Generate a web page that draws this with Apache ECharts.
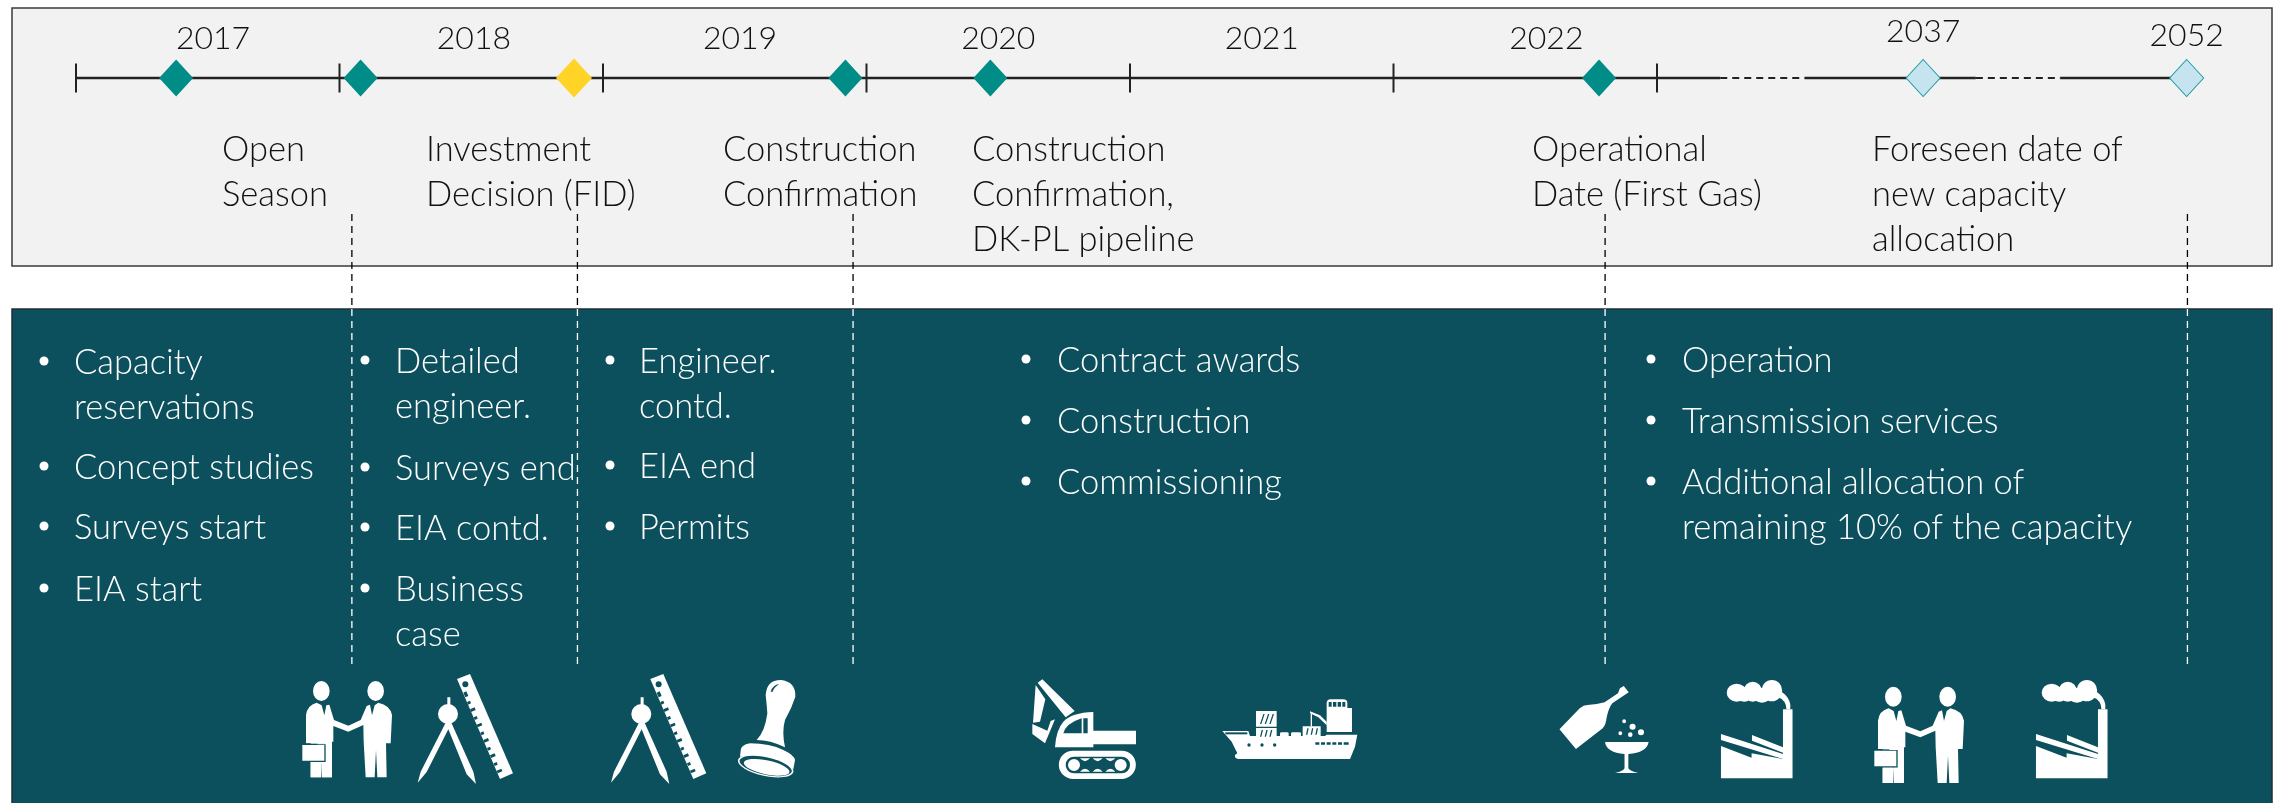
<!DOCTYPE html>
<html>
<head>
<meta charset="utf-8">
<title>Timeline</title>
<style>
  html, body { margin: 0; padding: 0; background: #fff; }
  #chart { width: 2279px; height: 803px; }
</style>
</head>
<body>
<div id="chart"></div>
<script src="https://cdn.jsdelivr.net/npm/echarts@6/dist/echarts.min.js"></script>
<script>
// timeline data, x positions are in "schematic years" (one tick = one year, 2023+ is broken)
const tickPositions = [2017, 2018, 2019, 2020, 2021, 2022, 2023]
const solidSegments = [[2017, 2023.24], [2023.56, 2024.21], [2024.53, 2025.01]]
const dashedSegments = [[2023.24, 2023.56], [2024.21, 2024.53]]
const doneMilestones = [2017.38, 2018.08, 2019.92, 2020.47, 2022.78]
const fidMilestones = [2018.89]
const futureMilestones = [2024.01, 2025.01]
const connectorPositions = [2018.047, 2018.903, 2019.949, 2022.803, 2025.013]

const yearLabels = ['2017', '2018', '2019', '2020', '2021', '2022', '2037', '2052']
const yearLabelPositions = [2017.52, 2018.51, 2019.52, 2020.50, 2021.50, 2022.58, 2024.01, 2025.01]

const milestoneCaptions = [
  ['Open', 'Season'],
  ['Investment', 'Decision (FID)'],
  ['Construction', 'Confirmation'],
  ['Construction', 'Confirmation,', 'DK-PL pipeline'],
  ['Operational', 'Date (First Gas)'],
  ['Foreseen date of', 'new capacity', 'allocation']
]

const activityLists = [
  [['Capacity', 'reservations'], ['Concept studies'], ['Surveys start'], ['EIA start']],
  [['Detailed', 'engineer.'], ['Surveys end'], ['EIA contd.'], ['Business', 'case']],
  [['Engineer.', 'contd.'], ['EIA end'], ['Permits']],
  [['Contract awards'], ['Construction'], ['Commissioning']],
  [['Operation'], ['Transmission services'], ['Additional allocation of', 'remaining 10% of the capacity']]
]

// layout, page pixels
const FONT_FAMILY = 'Lato, "Open Sans", sans-serif'
const FONT_SIZE = 34.5
const FONT = `300 ${FONT_SIZE}px ${FONT_FAMILY}`
const PANEL = '#0C505D'
const TEAL = '#008C87'
const LINE_H = 45
const TIMELINE_Y = 78
const captionX = [222, 426, 723, 972, 1532, 1872]
const yearY = [39, 39, 39, 39, 39, 39, 32, 36]
const listLayout = [
  { bulletX: 44, textX: 74, ys: [363, 468, 528, 590] },
  { bulletX: 365, textX: 395, ys: [362, 469, 529, 590] },
  { bulletX: 610, textX: 639, ys: [362, 467, 528] },
  { bulletX: 1026, textX: 1057, ys: [361, 422, 483] },
  { bulletX: 1651, textX: 1682, ys: [361, 422, 483] }
]

const graphics = [
  { type: 'rect', z: 0, shape: { x: 12, y: 8, width: 2260, height: 258 },
    style: { fill: '#F2F2F2', stroke: '#3A3A3A', lineWidth: 1.5 } },
  { type: 'rect', z: 0, shape: { x: 12, y: 309, width: 2260, height: 500 },
    style: { fill: PANEL, stroke: '#1F2F36', lineWidth: 1.5 } }
]

const addText = (text, x, y, fill) => {
  graphics.push({ type: 'text', z: 100, x, y,
    style: { text, font: FONT, fill, textVerticalAlign: 'middle' } })
}

milestoneCaptions.forEach((lines, i) => {
  lines.forEach((line, j) => addText(line, captionX[i], 149.5 + j * LINE_H, '#111'))
})

activityLists.forEach((items, c) => {
  const col = listLayout[c]
  items.forEach((lines, r) => {
    graphics.push({ type: 'circle', z: 100, shape: { cx: col.bulletX, cy: col.ys[r] - 2, r: 4.5 }, style: { fill: '#fff' } })
    lines.forEach((line, j) => addText(line, col.textX, col.ys[r] + j * LINE_H, '#fff'))
  })
})

// icons: layers are drawn in order, written in the pixel grid of a zoomed crop
const ell = (cx, cy, rx, ry, rot) => {
  const a = (rot || 0) * Math.PI / 180
  const dx = rx * Math.cos(a)
  const dy = rx * Math.sin(a)
  return `M${cx - dx},${cy - dy} A${rx},${ry} ${rot || 0} 1,1 ${cx + dx},${cy + dy} A${rx},${ry} ${rot || 0} 1,1 ${cx - dx},${cy - dy} Z`
}

const handshake = [
  ['#fff', ell(154, 153, 25, 30) + ell(317, 153, 25, 30)],
  ['#fff', 'M108,225 Q112,195 140,188 L155,196 L163,226 L169,196 L178,194 L192,240 L235,257 L272,240 L290,198 L300,194 L306,226 L314,196 L325,188 Q360,195 366,225 L362,310 L348,310 L350,412 L322,412 L318,330 L314,412 L287,412 L281,305 L280,255 L235,275 L190,258 L190,305 L186,305 L186,412 L155,412 L155,365 L153,412 L122,412 L122,310 L108,310 Z'],
  [PANEL, 'M94,311 L167,311 L167,366 L94,366 Z'],
  ['#fff', 'M97,315 L163,315 L163,362 L97,362 Z M122,366 L153,366 L153,412 L122,412 Z M156,366 L186,366 L186,412 L156,412 Z M142,310 L168,310 L168,313 L142,313 Z']
]
const compass = [
  ['#fff', 'M532,172 L541,172 L541,196 L532,196 Z' + ell(534, 222, 30, 30)],
  ['#fff', 'M527,248 L452,395 L443,428 L470,396 L535,268 L590,403 L618,432 L610,395 L543,246 Z'],
  ['#fff', 'M561,117 L600,102 L729,400 L690,417 Z'],
  [PANEL, ell(586, 133, 9, 9)],
  [PANEL, 'M580,158 L589,154 L595,168 L586,172 Z M591,186 L600,182 L603,190 L594,194 Z M600,208 L614,202 L617,210 L603,216 Z M611,232 L620,228 L623,236 L614,240 Z M620,254 L634,248 L637,256 L623,262 Z M631,278 L640,274 L643,282 L634,286 Z M640,300 L654,294 L657,302 L643,308 Z M651,324 L660,320 L663,328 L654,332 Z M660,346 L674,340 L677,348 L663,354 Z M671,370 L680,366 L683,374 L674,378 Z M680,392 L694,386 L697,394 L683,400 Z']
]
const stamp = [
  ['#fff', 'M110,240 Q135,215 142,160 Q140,130 137,105 Q140,60 182,60 Q228,65 226,110 Q215,145 195,180 Q185,215 195,262 Q150,240 110,240 Z'],
  [PANEL, 'M152,95 Q158,75 178,72 Q162,82 158,95 Z'],
  ['#fff', 'M62,272 Q62,255 90,250 Q150,250 190,270 Q222,285 225,300 L220,328 Q170,292 120,288 L60,290 Z'],
  ['#fff', ell(137, 318, 85, 30, 12)],
  [PANEL, ell(137, 318, 80, 26, 12)],
  ['#fff', ell(140, 322, 70, 21, 12)]
]
const excavator = [
  ['#fff', 'M127,118 L113,128 L197,232 L224,213 Z M107,135 L99,248 L120,245 L136,178 Z M97,252 L97,282 L135,310 L165,238 L152,243 L142,272 Z'],
  ['#fff', 'M165,322 Q168,270 190,245 Q215,218 280,216 L280,272 L408,272 L408,313 L280,313 L280,322 Z'],
  [PANEL, 'M190,280 Q198,250 245,235 L245,280 Z M250,235 L263,235 L263,280 L250,280 Z'],
  ['#fff', 'M219,332 L365,332 A42,42 0 0,1 365,417 L219,417 A42,42 0 0,1 219,332 Z'],
  [PANEL, 'M222,350 L365,350 A25,25 0 0,1 365,400 L222,400 A25,25 0 0,1 222,350 Z'],
  ['#fff', ell(222, 375, 18, 18) + ell(362, 375, 18, 18)],
  ['#fff', 'M240,355 L270,355 Q255,372 240,355 Z M278,355 L308,355 Q293,372 278,355 Z M316,355 L346,355 Q331,372 316,355 Z M240,395 L270,395 Q255,378 240,395 Z M278,395 L308,395 Q293,378 278,395 Z M316,395 L346,395 Q331,378 316,395 Z']
]
const ship = [
  ['#fff', 'M667,273 L745,273 L750,288 L975,288 L980,284 L1072,284 L1065,320 L1050,357 L715,357 Q703,355 705,345 L712,340 L695,305 Z'],
  [PANEL, 'M676,277 L742,277 L742,283 L676,283 Z'],
  [PANEL, ell(747, 315, 5, 5) + ell(786, 315, 5, 5) + ell(824, 315, 5, 5)],
  [PANEL, 'M946,307 L958,307 L958,314 L946,314 Z M963,307 L975,307 L975,314 L963,314 Z M980,307 L992,307 L992,314 L980,314 Z M997,307 L1009,307 L1009,314 L997,314 Z M1014,307 L1026,307 L1026,314 L1014,314 Z M1031,307 L1046,307 L1046,314 L1031,314 Z'],
  ['#fff', 'M768,213 L830,213 L830,260 L768,260 Z M768,264 L830,264 L830,295 L768,295 Z M908,259 L962,259 L962,288 L908,288 Z'],
  [PANEL, 'M780,252 L790,222 L794,222 L784,252 Z M794,252 L804,222 L808,222 L798,252 Z M808,252 L818,222 L822,222 L812,252 Z M780,290 L785,270 L789,270 L784,290 Z M794,290 L799,270 L803,270 L798,290 Z M808,290 L813,270 L817,270 L812,290 Z M918,284 L922,265 L926,265 L922,284 Z M932,284 L936,265 L940,265 L936,284 Z M946,284 L950,265 L954,265 L950,284 Z'],
  ['#fff', 'M840,280 Q840,277 845,277 L862,277 Q866,277 866,280 L866,290 L861,290 L861,297 L857,297 L857,290 L849,290 L849,297 L845,297 L845,290 L840,290 Z M873,280 Q873,277 878,277 L898,277 Q903,277 903,280 L903,290 L898,290 L898,297 L894,297 L894,290 L882,290 L882,297 L878,297 L878,290 L873,290 Z'],
  ['#fff', 'M980,190 Q980,178 992,178 L1030,178 Q1042,178 1042,190 L1042,204 L1056,204 L1056,276 L980,276 Z'],
  [PANEL, 'M986,186 L995,186 L995,200 L986,200 Z M999,186 L1009,186 L1009,200 L999,200 Z M1013,186 L1023,186 L1023,200 L1013,200 Z M1027,186 L1036,186 L1036,200 L1027,200 Z'],
  ['#fff', 'M930,214 L960,226 L980,245 L980,256 L955,232 L930,220 Z M932,222 L936,222 L936,259 L932,259 Z']
]
const champagne = [
  ['#fff', 'M77,268 L120,327 L190,265 Q198,255 200,235 Q205,205 215,190 L258,157 L245,138 L235,145 L230,160 L195,187 Q170,195 150,195 Q140,195 130,205 Z'],
  ['#fff', 'M196,306 L310,306 Q305,338 257,342 L257,385 Q260,393 283,399 L222,399 Q245,393 247,385 L247,342 Q200,338 196,306 Z'],
  ['#fff', ell(246, 244, 5, 6) + ell(268, 260, 8, 9) + ell(290, 277, 8, 9) + ell(236, 280, 5, 6) + ell(262, 284, 6, 7)]
]
const factory = [
  ['#fff', ell(540, 158, 26, 27) + ell(582, 155, 24, 30) + ell(632, 152, 27, 32) + ell(606, 166, 24, 22) + ell(560, 165, 20, 20)],
  ['#fff', 'M650,150 Q684,172 680,208 L670,208 Q670,180 646,170 Z'],
  ['#fff', 'M661,208 L686,208 L686,415 L499,415 L499,318 L579,353 L579,340 L661,357 Z'],
  ['#fff', 'M499,282 L661,342 L661,357 L499,300 Z M580,285 L661,322 L661,338 L580,302 Z']
]

const S3 = 1 / 3
const SX5 = 1 / 2.613
const iconNames = ['handshake', 'compass', 'compass', 'stamp', 'excavator', 'ship', 'champagne', 'factory', 'handshake', 'factory']
const iconShapes = { handshake, compass, stamp, excavator, ship, champagne, factory }
const iconPlacement = [
  [270, 640, S3, S3],
  [270, 640, S3, S3],
  [463.3, 640, S3, S3],
  [720, 660, S3, S3],
  [1000, 640, S3, S3],
  [1000, 640, S3, S3],
  [1530, 640, SX5, S3],
  [1530, 640, SX5, S3],
  [1842, 645.7, S3, S3],
  [1845, 640, SX5, S3]
]

const segment = (range, dashed) => ({
  type: 'line',
  symbol: 'none',
  silent: true,
  z: 3,
  lineStyle: { color: '#222', width: dashed ? 2 : 2.5, type: dashed ? [7, 5] : 'solid' },
  data: range.map((x) => [x, TIMELINE_Y])
})

const connector = (x, top, bottom, color) => ({
  type: 'line',
  symbol: 'none',
  silent: true,
  z: 4,
  lineStyle: { color, width: 1.3, type: [7, 5] },
  data: [[x, top], [x, bottom]]
})

const milestone = (positions, size, itemStyle) => ({
  type: 'scatter',
  symbol: 'diamond',
  symbolSize: size,
  silent: true,
  z: 6,
  itemStyle: { opacity: 1, ...itemStyle },
  data: positions.map((x) => [x, TIMELINE_Y])
})

const option = {
  animation: false,
  grid: { left: 0, right: 0, top: 0, bottom: 0 },
  xAxis: { type: 'value', min: 2016.7116, max: 2025.3605, show: false },
  yAxis: { type: 'value', min: 0, max: 803, inverse: true, show: false },
  graphic: { elements: graphics },
  series: [
    ...solidSegments.map((r) => segment(r, false)),
    ...dashedSegments.map((r) => segment(r, true)),
    ...connectorPositions.map((x) => connector(x, 214, 309, '#000')),
    ...connectorPositions.map((x) => connector(x, 309, 667, '#fff')),
    {
      type: 'scatter',
      symbol: 'rect',
      symbolSize: [2, 29],
      silent: true,
      z: 5,
      itemStyle: { color: '#222', opacity: 1 },
      data: tickPositions.map((x) => [x, TIMELINE_Y])
    },
    milestone(doneMilestones, [34, 37], { color: TEAL }),
    milestone(fidMilestones, [36, 39], { color: '#FFD426' }),
    milestone(futureMilestones, [34, 37], { color: '#C5E4F0', borderColor: '#1B9AA0', borderWidth: 1 }),
    {
      type: 'scatter',
      symbolSize: 0,
      silent: true,
      z: 7,
      itemStyle: { opacity: 1 },
      label: {
        show: true,
        position: 'inside',
        color: '#111',
        fontFamily: FONT_FAMILY,
        fontSize: 32,
        fontWeight: 300,
        formatter: (p) => yearLabels[p.dataIndex]
      },
      data: yearLabelPositions.map((x, i) => [x, yearY[i]])
    },
    {
      type: 'custom',
      silent: true,
      z: 8,
      coordinateSystem: 'none',
      data: iconNames.map((n, i) => i),
      renderItem: (params) => {
        const i = params.dataIndex
        const [x, y, sx, sy] = iconPlacement[i]
        return {
          type: 'group',
          x, y, scaleX: sx, scaleY: sy,
          children: iconShapes[iconNames[i]].map((layer) => ({
            type: 'path',
            shape: { pathData: layer[1] },
            style: { fill: layer[0] }
          }))
        }
      }
    }
  ]
}

const chart = echarts.init(document.getElementById('chart'), null, { renderer: 'canvas' })
chart.setOption(option)
</script>
</body>
</html>
